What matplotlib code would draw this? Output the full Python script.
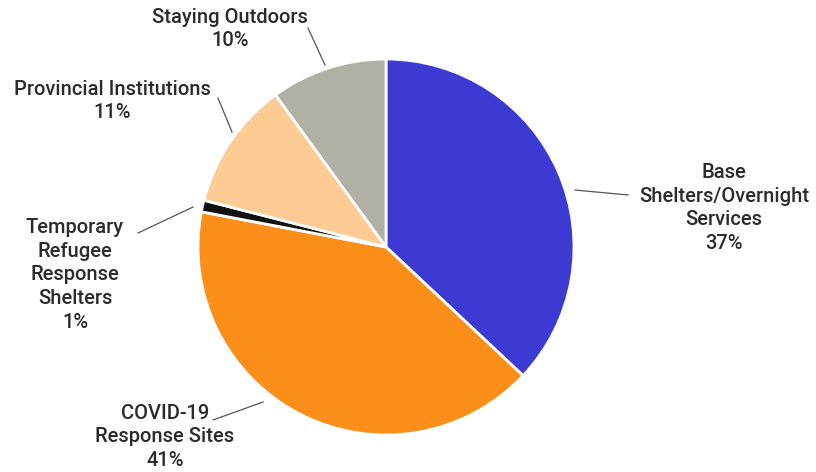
import matplotlib
matplotlib.use("Agg")
import matplotlib.pyplot as plt

labels = ["Base\nShelters/Overnight\nServices", "COVID-19\nResponse Sites",
          "Temporary\nRefugee\nResponse\nShelters", "Provincial Institutions",
          "Staying Outdoors"]
shares = [37, 41, 1, 11, 10]
colors = ["#3d3ad3", "#fb8f1a", "#111111", "#fdcb94", "#b1b0a4"]

# layout in pixels (816x472 canvas), pie centre (386,247), radius 188
CX, CY, R = 386, 247, 188


def px(x, y):
    return (x - CX) / R, (CY - y) / R


text_pos = [(724, 208), (165, 437), (75, 275), (112, 101), (230, 29)]
leaders = [((575, 190), (628, 195)), ((263, 402), (213, 420)),
           ((193, 207), (138, 233)), ((232, 132), (218, 98)),
           ((325, 65), (308, 28))]

plt.rcParams['font.family'] = ['Roboto', 'DejaVu Sans']

fig = plt.figure(figsize=(8.16, 4.72), dpi=100)
ax = fig.add_axes([0, 0, 1, 1])
ax.pie(shares, colors=colors, startangle=90, counterclock=False, radius=1,
       wedgeprops=dict(edgecolor="white", linewidth=2))
ax.set_xlim(px(0, 0)[0], px(816, 0)[0])
ax.set_ylim(px(0, 472)[1], px(0, 0)[1])
ax.set_aspect("equal")
ax.axis("off")

for lab, val, (tx, ty), (a, b) in zip(labels, shares, text_pos, leaders):
    x0, y0 = px(*a)
    x1, y1 = px(*b)
    ax.plot([x0, x1], [y0, y1], color="#555555", lw=0.9)
    ax.text(*px(tx, ty), f"{lab}\n{val}%", ha="center", va="center",
            fontsize=14.5, fontweight="medium", color="#2b2b2b", linespacing=1.32)

fig.savefig("out.png", dpi=100)
